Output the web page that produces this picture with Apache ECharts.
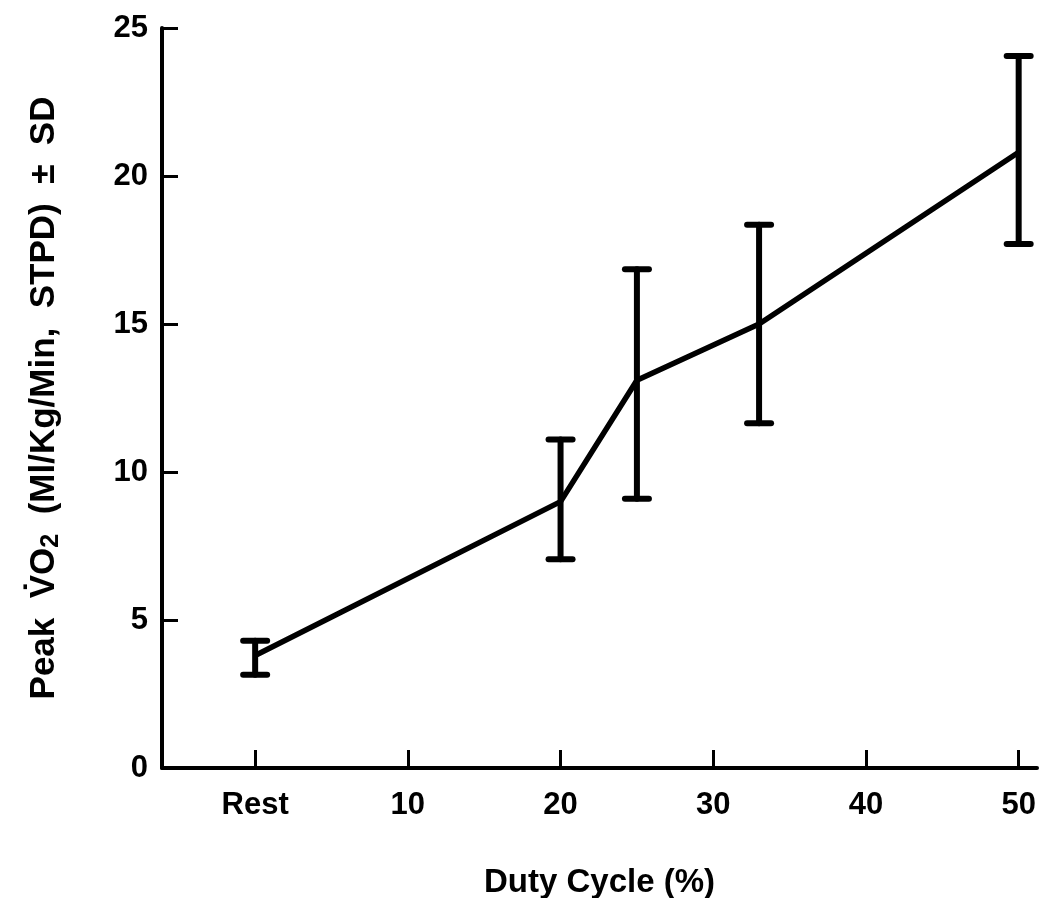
<!DOCTYPE html>
<html>
<head>
<meta charset="utf-8">
<script src="https://cdn.jsdelivr.net/npm/echarts@6/dist/echarts.min.js"></script>
<style>html,body{margin:0;padding:0;background:#fff;}#chart{width:1042px;height:898px;}</style>
</head>
<body>
<div id="chart"></div>
<script>
// Data
const dutyCycle = [0, 20, 25, 33, 50];          // 0 = "Rest"
const peakVO2 = [3.8, 9.0, 13.1, 15.0, 20.8];
const sdLow = [3.15, 7.05, 9.1, 11.65, 17.7];
const sdHigh = [4.3, 11.1, 16.85, 18.35, 24.05];
const xTickValues = [0, 10, 20, 30, 40, 50];
const xTickLabels = ['Rest', '10', '20', '30', '40', '50'];

const chart = echarts.init(document.getElementById('chart'));
const font = '"Liberation Sans", Arial, sans-serif';

const lineData = dutyCycle.map((x, i) => [x, peakVO2[i]]);
const errData = dutyCycle.map((x, i) => [x, sdLow[i], sdHigh[i]]);

chart.setOption({
  animation: false,
  grid: { left: 162, right: 5, top: 28, bottom: 130, containLabel: false, outerBoundsMode: 'none' },
  xAxis: {
    type: 'value',
    min: -6.1,
    max: 51.2,
    splitLine: { show: false },
    axisLine: { show: true, onZero: false, lineStyle: { color: '#000', width: 4 } },
    axisTick: { show: true, inside: true, length: 18, lineStyle: { color: '#000', width: 3 }, customValues: xTickValues },
    axisLabel: {
      customValues: xTickValues,
      formatter: v => xTickLabels[xTickValues.indexOf(v)],
      color: '#000', fontFamily: font, fontSize: 31, fontWeight: 'bold', margin: 22
    },
    name: 'Duty Cycle (%)',
    nameLocation: 'middle',
    nameGap: 98,
    nameTextStyle: { color: '#000', fontFamily: font, fontSize: 33, fontWeight: 'bold' }
  },
  yAxis: {
    type: 'value',
    min: 0, max: 25, interval: 5,
    splitLine: { show: false },
    axisLine: { show: true, onZero: false, lineStyle: { color: '#000', width: 4 } },
    axisTick: { show: true, inside: true, length: 16, lineStyle: { color: '#000', width: 3 } },
    axisLabel: { color: '#000', fontFamily: font, fontSize: 31, fontWeight: 'bold', margin: 14 },
    name: 'Peak  V\u0307O{sub|2}  (Ml/Kg/Min,  STPD)  \u00B1  SD',
    nameLocation: 'middle',
    nameGap: 98,
    nameTextStyle: {
      color: '#000', fontFamily: font, fontSize: 35, fontWeight: 'bold',
      rich: { sub: { fontFamily: font, fontSize: 25, fontWeight: 'bold', color: '#000', verticalAlign: 'bottom', padding: [15, 0, 0, 0] } }
    }
  },
  series: [
    {
      type: 'line',
      data: lineData,
      symbol: 'none',
      lineStyle: { color: '#000', width: 5.5 },
      z: 3
    },
    {
      type: 'custom',
      data: errData,
      encode: { x: 0, y: [1, 2] },
      renderItem: function (params, api) {
        const x = api.value(0);
        const lo = api.coord([x, api.value(1)]);
        const hi = api.coord([x, api.value(2)]);
        const hw = 12;
        const style = { stroke: '#000', lineWidth: 6, lineCap: 'round' };
        return {
          type: 'group',
          children: [
            { type: 'line', shape: { x1: lo[0], y1: lo[1], x2: hi[0], y2: hi[1] }, style: style },
            { type: 'line', shape: { x1: lo[0] - hw, y1: lo[1], x2: lo[0] + hw, y2: lo[1] }, style: style },
            { type: 'line', shape: { x1: hi[0] - hw, y1: hi[1], x2: hi[0] + hw, y2: hi[1] }, style: style }
          ]
        };
      },
      z: 4
    }
  ]
});
</script>
</body>
</html>
